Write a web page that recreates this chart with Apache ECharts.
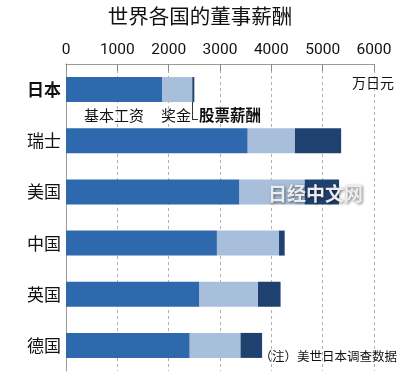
<!DOCTYPE html>
<html><head><meta charset="utf-8">
<script src="https://cdn.jsdelivr.net/npm/echarts@6/dist/echarts.min.js"></script>
<style>html,body{margin:0;padding:0;background:#fff}#c{width:400px;height:375px}</style>
</head><body><div id="c"></div>
<script>
var categories = ['日本', '瑞士', '美国', '中国', '英国', '德国'];
var baseSalary = [1870, 3540, 3380, 2940, 2600, 2410];
var bonus = [590, 920, 1270, 1210, 1140, 990];
var stockPay = [40, 900, 670, 110, 440, 420];
var xTicks = [0, 1000, 2000, 3000, 4000, 5000, 6000];
var seriesNames = ['基本工资', '奖金', '股票薪酬'];

var CJK = '"Noto Sans CJK SC", "Noto Sans CJK JP", sans-serif';
var chart = echarts.init(document.getElementById('c'));
var option = {
  animation: false,
  backgroundColor: '#fff',
  grid: {left: 66, right: 26, top: 64, bottom: 4},
  xAxis: {
    type: 'value', position: 'top', min: xTicks[0], max: xTicks[xTicks.length - 1], interval: 1000,
    axisLine: {show: true, lineStyle: {color: '#9a9a9a', width: 1}},
    axisTick: {show: true, inside: true, length: 7, lineStyle: {color: '#8a8a8a'}},
    axisLabel: {color: '#111', fontSize: 15.5, margin: 6, fontFamily: '"Liberation Sans Narrow", "Roboto", sans-serif',
      formatter: function (v) { return String(v); }},
    splitLine: {show: true, lineStyle: {color: '#b0b0b0', type: [3, 3]}}
  },
  yAxis: {
    type: 'category', data: categories, inverse: true,
    axisLine: {show: true, lineStyle: {color: '#9a9a9a'}},
    axisTick: {show: false},
    axisLabel: {
      color: '#111', fontSize: 17, margin: 5, fontFamily: CJK,
      formatter: function (v, i) { return i === 0 ? '{b|' + v + '}' : v; },
      rich: {b: {fontWeight: 'bold', fontSize: 17, color: '#111', fontFamily: CJK}}
    }
  },
  series: [
    {name: seriesNames[0], type: 'bar', stack: 't', data: baseSalary, barWidth: 25, itemStyle: {color: '#2e69ad'}},
    {name: seriesNames[1], type: 'bar', stack: 't', data: bonus, barWidth: 25, itemStyle: {color: '#a8bfdc'}},
    {name: seriesNames[2], type: 'bar', stack: 't', data: stockPay, barWidth: 25, itemStyle: {color: '#1f416f'}}
  ]
};
chart.setOption(option);

// annotations positioned from the axis scales
var jBaseEnd = chart.convertToPixel({gridIndex: 0}, [baseSalary[0], 0]);
var jStockEnd = chart.convertToPixel({gridIndex: 0}, [baseSalary[0] + bonus[0] + stockPay[0] / 2, 0]);
var cy = Math.round(jBaseEnd[1]);
var ly = cy + 25;
var lx = Math.round(jStockEnd[0]);
chart.setOption({graphic: {elements: [
  {type: 'text', left: 'center', top: 6, style: {text: '世界各国的董事薪酬', fontSize: 20.5, fill: '#111', fontFamily: CJK}},
  {type: 'text', right: 6, top: 76, style: {text: '万日元', fontSize: 14, fill: '#111', fontFamily: CJK}},
  {type: 'text', right: 3, top: 350, style: {text: '（注）美世日本调查数据', fontSize: 12.5, fill: '#111', fontFamily: CJK}},
  {type: 'text', x: 84, y: ly, style: {text: seriesNames[0], fontSize: 15, fill: '#111', fontFamily: CJK, verticalAlign: 'middle'}},
  {type: 'text', x: 161, y: ly, style: {text: seriesNames[1], fontSize: 15, fill: '#111', fontFamily: CJK, verticalAlign: 'middle'}},
  {type: 'rect', z: 50, silent: true, shape: {x: lx - 1, y: cy + 12, width: 1, height: 18}, style: {fill: '#333'}},
  {type: 'rect', z: 50, silent: true, shape: {x: lx - 1, y: cy + 29, width: 6, height: 1}, style: {fill: '#333'}},
  {type: 'text', x: lx + 6, y: ly, style: {text: seriesNames[2], fontSize: 15.5, fontWeight: 'bold', fill: '#111', fontFamily: CJK, verticalAlign: 'middle'}},
  {type: 'text', x: 268, y: 184, z: 100, style: {text: '日经中文网', fontSize: 19, fontWeight: 'bold', fill: '#ececec', fontFamily: CJK, textShadowColor: 'rgba(0,0,0,0.55)', textShadowBlur: 3, textShadowOffsetX: 1, textShadowOffsetY: 1}}
]}});
</script></body></html>
